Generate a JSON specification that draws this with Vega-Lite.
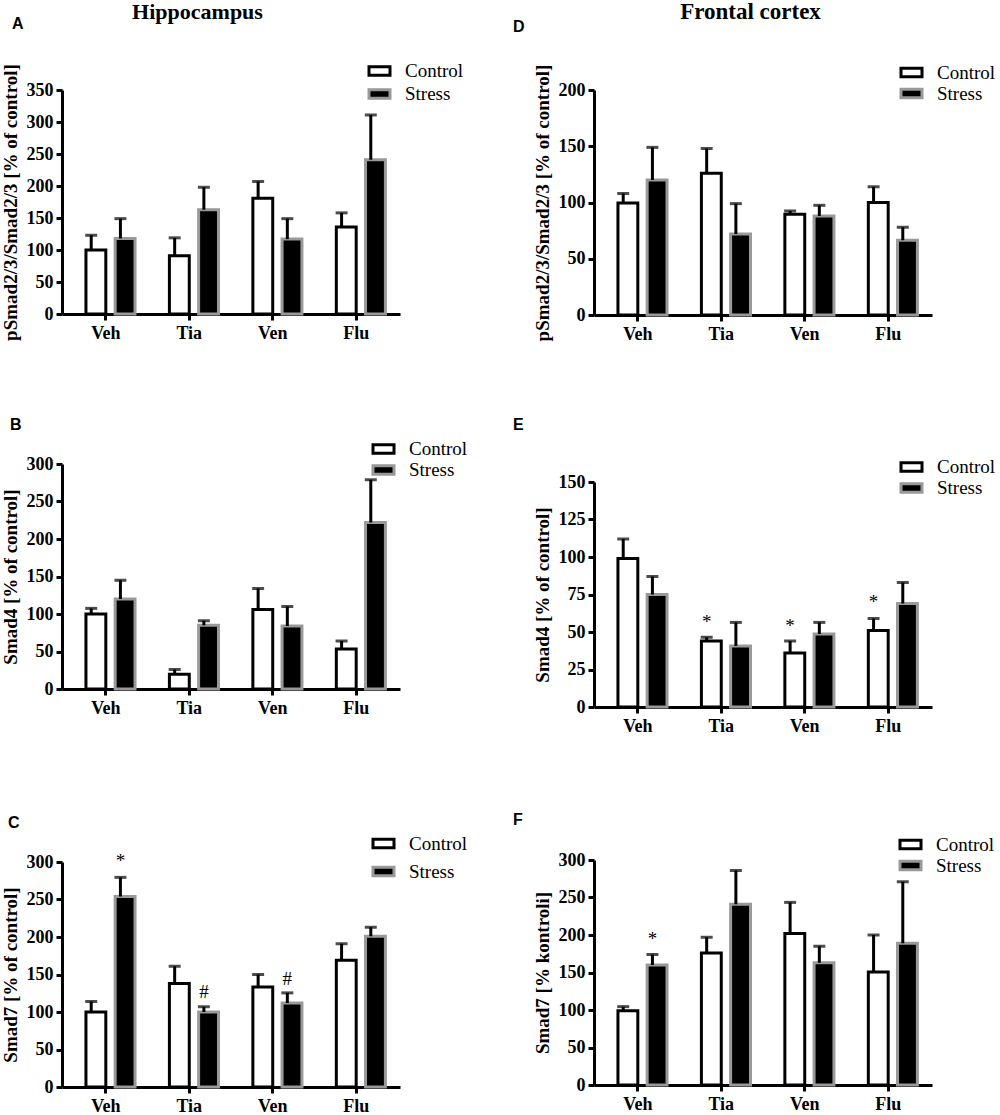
{
  "$schema": "https://vega.github.io/schema/vega-lite/v6.json",
  "background": "#ffffff",
  "padding": {"left": 0, "top": 0, "right": 0, "bottom": 0},
  "datasets": {
    "A": [
      {"drug": "Veh", "group": "Control", "value": 100, "upper": 123},
      {"drug": "Veh", "group": "Stress", "value": 118, "upper": 149},
      {"drug": "Tia", "group": "Control", "value": 91, "upper": 119},
      {"drug": "Tia", "group": "Stress", "value": 163, "upper": 198},
      {"drug": "Ven", "group": "Control", "value": 181, "upper": 207},
      {"drug": "Ven", "group": "Stress", "value": 117, "upper": 149},
      {"drug": "Flu", "group": "Control", "value": 136, "upper": 158},
      {"drug": "Flu", "group": "Stress", "value": 241, "upper": 311}
    ],
    "B": [
      {"drug": "Veh", "group": "Control", "value": 100, "upper": 107.5},
      {"drug": "Veh", "group": "Stress", "value": 120, "upper": 145},
      {"drug": "Tia", "group": "Control", "value": 19.6, "upper": 26},
      {"drug": "Tia", "group": "Stress", "value": 85, "upper": 91},
      {"drug": "Ven", "group": "Control", "value": 106, "upper": 134},
      {"drug": "Ven", "group": "Stress", "value": 84, "upper": 110},
      {"drug": "Flu", "group": "Control", "value": 53.5, "upper": 64},
      {"drug": "Flu", "group": "Stress", "value": 222, "upper": 279}
    ],
    "C": [
      {"drug": "Veh", "group": "Control", "value": 100, "upper": 114},
      {"drug": "Veh", "group": "Stress", "value": 254, "upper": 279.5},
      {"drug": "Tia", "group": "Control", "value": 138, "upper": 161},
      {"drug": "Tia", "group": "Stress", "value": 100, "upper": 107},
      {"drug": "Ven", "group": "Control", "value": 133.5, "upper": 150},
      {"drug": "Ven", "group": "Stress", "value": 112, "upper": 125.5},
      {"drug": "Flu", "group": "Control", "value": 169, "upper": 191},
      {"drug": "Flu", "group": "Stress", "value": 201, "upper": 213}
    ],
    "D": [
      {"drug": "Veh", "group": "Control", "value": 99.5, "upper": 108},
      {"drug": "Veh", "group": "Stress", "value": 120, "upper": 149},
      {"drug": "Tia", "group": "Control", "value": 126, "upper": 148},
      {"drug": "Tia", "group": "Stress", "value": 72, "upper": 99},
      {"drug": "Ven", "group": "Control", "value": 89.5, "upper": 92.5},
      {"drug": "Ven", "group": "Stress", "value": 88, "upper": 97.5},
      {"drug": "Flu", "group": "Control", "value": 100, "upper": 114},
      {"drug": "Flu", "group": "Stress", "value": 66.5, "upper": 78}
    ],
    "E": [
      {"drug": "Veh", "group": "Control", "value": 99, "upper": 112},
      {"drug": "Veh", "group": "Stress", "value": 75, "upper": 87},
      {"drug": "Tia", "group": "Control", "value": 44, "upper": 46.5},
      {"drug": "Tia", "group": "Stress", "value": 40.7, "upper": 56.4},
      {"drug": "Ven", "group": "Control", "value": 36, "upper": 44},
      {"drug": "Ven", "group": "Stress", "value": 48.7, "upper": 56.4},
      {"drug": "Flu", "group": "Control", "value": 51, "upper": 59},
      {"drug": "Flu", "group": "Stress", "value": 69, "upper": 83}
    ],
    "F": [
      {"drug": "Veh", "group": "Control", "value": 99, "upper": 104.5},
      {"drug": "Veh", "group": "Stress", "value": 160, "upper": 174},
      {"drug": "Tia", "group": "Control", "value": 176, "upper": 197},
      {"drug": "Tia", "group": "Stress", "value": 241, "upper": 286},
      {"drug": "Ven", "group": "Control", "value": 202, "upper": 243.5},
      {"drug": "Ven", "group": "Stress", "value": 163, "upper": 185},
      {"drug": "Flu", "group": "Control", "value": 150.7, "upper": 200},
      {"drug": "Flu", "group": "Stress", "value": 189, "upper": 271}
    ],
    "annot": [
      {"panel": "C", "drug": "Veh", "group": "Stress", "mark": "*", "pos": 293},
      {"panel": "C", "drug": "Tia", "group": "Stress", "mark": "#", "pos": 119},
      {"panel": "C", "drug": "Ven", "group": "Stress", "mark": "#", "pos": 136},
      {"panel": "E", "drug": "Tia", "group": "Control", "mark": "*", "pos": 53},
      {"panel": "E", "drug": "Ven", "group": "Control", "mark": "*", "pos": 49.7},
      {"panel": "E", "drug": "Flu", "group": "Control", "mark": "*", "pos": 66},
      {"panel": "F", "drug": "Veh", "group": "Stress", "mark": "*", "pos": 187}
    ]
  },
  "spacing": 45,
  "resolve": {
    "scale": {"fill": "independent", "stroke": "independent", "xOffset": "independent"},
    "legend": {"fill": "independent", "stroke": "independent"}
  },
  "hconcat": [
    {
      "spacing": 75,
      "resolve": {
        "scale": {"fill": "independent", "stroke": "independent", "xOffset": "independent"},
        "legend": {"fill": "independent", "stroke": "independent"}
      },
      "vconcat": [
        {
          "title": {"text": "A", "dx": -50, "offset": -32},
          "width": 338,
          "height": 224,
          "data": {"name": "A"},
          "resolve": {"axis": {"x": "independent"}},
          "encoding": {
            "xOffset": {"field": "group", "type": "nominal", "scale": {"domain": ["Control", "Stress"], "paddingInner": 0, "paddingOuter": 0}}
          },
          "layer": [
            {
              "mark": {"type": "bar", "strokeWidth": 3, "width": {"band": 0.68}},
              "encoding": {
                "x": {"field": "drug", "type": "nominal", "title": null, "scale": {"domain": ["Veh", "Tia", "Ven", "Flu"], "paddingInner": 0.3, "paddingOuter": 0.175}, "axis": {"orient": "bottom"}},
                "y": {"field": "value", "type": "quantitative", "title": "pSmad2/3/Smad2/3 [% of control]", "scale": {"domain": [0, 350]}, "axis": {"values": [0, 50, 100, 150, 200, 250, 300, 350]}},
                "fill": {"field": "group", "type": "nominal", "scale": {"domain": ["Control", "Stress"], "range": ["#ffffff", "#000000"]}, "legend": {"title": null, "legendX": 308, "legendY": -28.5, "rowPadding": 2}},
                "stroke": {"field": "group", "type": "nominal", "scale": {"domain": ["Control", "Stress"], "range": ["#000000", "#999999"]}, "legend": {"title": null, "legendX": 308, "legendY": -28.5, "rowPadding": 2}}
              }
            },
            {
              "mark": {"type": "rule", "strokeWidth": 3, "color": "#000000"},
              "encoding": {
                "x": {"field": "drug", "type": "nominal", "scale": {"domain": ["Veh", "Tia", "Ven", "Flu"], "paddingInner": 0.3, "paddingOuter": 0.175}, "axis": {"orient": "top", "title": "Hippocampus", "labels": false, "ticks": false, "domain": false, "titleFontSize": 22, "titleX": 135, "titleY": -72, "titleBaseline": "alphabetic"}},
                "y": {"field": "value", "type": "quantitative", "title": "pSmad2/3/Smad2/3 [% of control]", "scale": {"domain": [0, 350]}, "axis": {"values": [0, 50, 100, 150, 200, 250, 300, 350]}},
                "y2": {"field": "upper"}
              }
            },
            {
              "mark": {"type": "tick", "thickness": 3, "size": 12, "color": "#000000"},
              "encoding": {
                "x": {"field": "drug", "type": "nominal", "title": null, "scale": {"domain": ["Veh", "Tia", "Ven", "Flu"], "paddingInner": 0.3, "paddingOuter": 0.175}, "axis": null},
                "y": {"field": "upper", "type": "quantitative", "title": "pSmad2/3/Smad2/3 [% of control]", "scale": {"domain": [0, 350]}, "axis": {"values": [0, 50, 100, 150, 200, 250, 300, 350]}}
              }
            }
          ]
        },
        {
          "spacing": 98,
          "resolve": {
            "scale": {"fill": "independent", "stroke": "independent", "xOffset": "independent"},
            "legend": {"fill": "independent", "stroke": "independent"}
          },
          "vconcat": [
            {
              "title": {"text": "B", "dx": -52, "offset": 6.5},
              "width": 338,
              "height": 225,
              "data": {"name": "B"},
              "encoding": {
                "x": {"field": "drug", "type": "nominal", "title": null, "scale": {"domain": ["Veh", "Tia", "Ven", "Flu"], "paddingInner": 0.3, "paddingOuter": 0.175}},
                "xOffset": {"field": "group", "type": "nominal", "scale": {"domain": ["Control", "Stress"], "paddingInner": 0, "paddingOuter": 0}}
              },
              "layer": [
                {
                  "mark": {"type": "bar", "strokeWidth": 3, "width": {"band": 0.68}},
                  "encoding": {
                    "y": {"field": "value", "type": "quantitative", "title": "Smad4 [% of control]", "scale": {"domain": [0, 300]}, "axis": {"values": [0, 50, 100, 150, 200, 250, 300]}},
                    "fill": {"field": "group", "type": "nominal", "scale": {"domain": ["Control", "Stress"], "range": ["#ffffff", "#000000"]}, "legend": {"title": null, "legendX": 312, "legendY": -24.5, "rowPadding": 0}},
                    "stroke": {"field": "group", "type": "nominal", "scale": {"domain": ["Control", "Stress"], "range": ["#000000", "#999999"]}, "legend": {"title": null, "legendX": 312, "legendY": -24.5, "rowPadding": 0}}
                  }
                },
                {
                  "mark": {"type": "rule", "strokeWidth": 3, "color": "#000000"},
                  "encoding": {
                    "y": {"field": "value", "type": "quantitative", "title": "Smad4 [% of control]", "scale": {"domain": [0, 300]}, "axis": {"values": [0, 50, 100, 150, 200, 250, 300]}},
                    "y2": {"field": "upper"}
                  }
                },
                {
                  "mark": {"type": "tick", "thickness": 3, "size": 12, "color": "#000000"},
                  "encoding": {
                    "y": {"field": "upper", "type": "quantitative", "title": "Smad4 [% of control]", "scale": {"domain": [0, 300]}, "axis": {"values": [0, 50, 100, 150, 200, 250, 300]}}
                  }
                }
              ]
            },
            {
              "title": {"text": "C", "dx": -54, "offset": 3},
              "width": 338,
              "height": 225,
              "data": {"name": "C"},
              "encoding": {
                "x": {"field": "drug", "type": "nominal", "title": null, "scale": {"domain": ["Veh", "Tia", "Ven", "Flu"], "paddingInner": 0.3, "paddingOuter": 0.175}},
                "xOffset": {"field": "group", "type": "nominal", "scale": {"domain": ["Control", "Stress"], "paddingInner": 0, "paddingOuter": 0}}
              },
              "layer": [
                {
                  "mark": {"type": "bar", "strokeWidth": 3, "width": {"band": 0.68}},
                  "encoding": {
                    "y": {"field": "value", "type": "quantitative", "title": "Smad7 [% of control]", "scale": {"domain": [0, 300]}, "axis": {"values": [0, 50, 100, 150, 200, 250, 300]}},
                    "fill": {"field": "group", "type": "nominal", "scale": {"domain": ["Control", "Stress"], "range": ["#ffffff", "#000000"]}, "legend": {"title": null, "legendX": 312, "legendY": -28, "rowPadding": 7}},
                    "stroke": {"field": "group", "type": "nominal", "scale": {"domain": ["Control", "Stress"], "range": ["#000000", "#999999"]}, "legend": {"title": null, "legendX": 312, "legendY": -28, "rowPadding": 7}}
                  }
                },
                {
                  "mark": {"type": "rule", "strokeWidth": 3, "color": "#000000"},
                  "encoding": {
                    "y": {"field": "value", "type": "quantitative", "title": "Smad7 [% of control]", "scale": {"domain": [0, 300]}, "axis": {"values": [0, 50, 100, 150, 200, 250, 300]}},
                    "y2": {"field": "upper"}
                  }
                },
                {
                  "mark": {"type": "tick", "thickness": 3, "size": 12, "color": "#000000"},
                  "encoding": {
                    "y": {"field": "upper", "type": "quantitative", "title": "Smad7 [% of control]", "scale": {"domain": [0, 300]}, "axis": {"values": [0, 50, 100, 150, 200, 250, 300]}}
                  }
                },
                {
                  "data": {"name": "annot"},
                  "transform": [{"filter": "datum.panel === 'C'"}],
                  "mark": {"type": "text", "baseline": "alphabetic", "font": "Liberation Serif", "fontSize": 19, "color": "#000000"},
                  "encoding": {
                    "text": {"field": "mark"},
                    "y": {"field": "pos", "type": "quantitative", "title": "Smad7 [% of control]", "scale": {"domain": [0, 300]}, "axis": {"values": [0, 50, 100, 150, 200, 250, 300]}}
                  }
                }
              ]
            }
          ]
        }
      ]
    },
    {
      "spacing": 74,
      "resolve": {
        "scale": {"fill": "independent", "stroke": "independent", "xOffset": "independent"},
        "legend": {"fill": "independent", "stroke": "independent"}
      },
      "vconcat": [
        {
          "title": {"text": "D", "dx": -81, "offset": -35},
          "width": 338,
          "height": 225,
          "data": {"name": "D"},
          "resolve": {"axis": {"x": "independent"}},
          "encoding": {
            "xOffset": {"field": "group", "type": "nominal", "scale": {"domain": ["Control", "Stress"], "paddingInner": 0, "paddingOuter": 0}}
          },
          "layer": [
            {
              "mark": {"type": "bar", "strokeWidth": 3, "width": {"band": 0.68}},
              "encoding": {
                "x": {"field": "drug", "type": "nominal", "title": null, "scale": {"domain": ["Veh", "Tia", "Ven", "Flu"], "paddingInner": 0.3, "paddingOuter": 0.175}, "axis": {"orient": "bottom"}},
                "y": {"field": "value", "type": "quantitative", "title": "pSmad2/3/Smad2/3 [% of control]", "scale": {"domain": [0, 200]}, "axis": {"values": [0, 50, 100, 150, 200]}},
                "fill": {"field": "group", "type": "nominal", "scale": {"domain": ["Control", "Stress"], "range": ["#ffffff", "#000000"]}, "legend": {"title": null, "legendX": 308, "legendY": -27, "rowPadding": 0}},
                "stroke": {"field": "group", "type": "nominal", "scale": {"domain": ["Control", "Stress"], "range": ["#000000", "#999999"]}, "legend": {"title": null, "legendX": 308, "legendY": -27, "rowPadding": 0}}
              }
            },
            {
              "mark": {"type": "rule", "strokeWidth": 3, "color": "#000000"},
              "encoding": {
                "x": {"field": "drug", "type": "nominal", "scale": {"domain": ["Veh", "Tia", "Ven", "Flu"], "paddingInner": 0.3, "paddingOuter": 0.175}, "axis": {"orient": "top", "title": "Frontal cortex", "labels": false, "ticks": false, "domain": false, "titleFontSize": 23, "titleX": 156, "titleY": -72, "titleBaseline": "alphabetic"}},
                "y": {"field": "value", "type": "quantitative", "title": "pSmad2/3/Smad2/3 [% of control]", "scale": {"domain": [0, 200]}, "axis": {"values": [0, 50, 100, 150, 200]}},
                "y2": {"field": "upper"}
              }
            },
            {
              "mark": {"type": "tick", "thickness": 3, "size": 12, "color": "#000000"},
              "encoding": {
                "x": {"field": "drug", "type": "nominal", "title": null, "scale": {"domain": ["Veh", "Tia", "Ven", "Flu"], "paddingInner": 0.3, "paddingOuter": 0.175}, "axis": null},
                "y": {"field": "upper", "type": "quantitative", "title": "pSmad2/3/Smad2/3 [% of control]", "scale": {"domain": [0, 200]}, "axis": {"values": [0, 50, 100, 150, 200]}}
              }
            }
          ]
        },
        {
          "spacing": 77,
          "resolve": {
            "scale": {"fill": "independent", "stroke": "independent", "xOffset": "independent"},
            "legend": {"fill": "independent", "stroke": "independent"}
          },
          "vconcat": [
            {
              "title": {"text": "E", "dx": -81, "offset": 24.5},
              "width": 338,
              "height": 225,
              "data": {"name": "E"},
              "encoding": {
                "x": {"field": "drug", "type": "nominal", "title": null, "scale": {"domain": ["Veh", "Tia", "Ven", "Flu"], "paddingInner": 0.3, "paddingOuter": 0.175}},
                "xOffset": {"field": "group", "type": "nominal", "scale": {"domain": ["Control", "Stress"], "paddingInner": 0, "paddingOuter": 0}}
              },
              "layer": [
                {
                  "mark": {"type": "bar", "strokeWidth": 3, "width": {"band": 0.68}},
                  "encoding": {
                    "y": {"field": "value", "type": "quantitative", "title": "Smad4 [% of control]", "scale": {"domain": [0, 150]}, "axis": {"values": [0, 25, 50, 75, 100, 125, 150]}},
                    "fill": {"field": "group", "type": "nominal", "scale": {"domain": ["Control", "Stress"], "range": ["#ffffff", "#000000"]}, "legend": {"title": null, "legendX": 308, "legendY": -24.5, "rowPadding": 0}},
                    "stroke": {"field": "group", "type": "nominal", "scale": {"domain": ["Control", "Stress"], "range": ["#000000", "#999999"]}, "legend": {"title": null, "legendX": 308, "legendY": -24.5, "rowPadding": 0}}
                  }
                },
                {
                  "mark": {"type": "rule", "strokeWidth": 3, "color": "#000000"},
                  "encoding": {
                    "y": {"field": "value", "type": "quantitative", "title": "Smad4 [% of control]", "scale": {"domain": [0, 150]}, "axis": {"values": [0, 25, 50, 75, 100, 125, 150]}},
                    "y2": {"field": "upper"}
                  }
                },
                {
                  "mark": {"type": "tick", "thickness": 3, "size": 12, "color": "#000000"},
                  "encoding": {
                    "y": {"field": "upper", "type": "quantitative", "title": "Smad4 [% of control]", "scale": {"domain": [0, 150]}, "axis": {"values": [0, 25, 50, 75, 100, 125, 150]}}
                  }
                },
                {
                  "data": {"name": "annot"},
                  "transform": [{"filter": "datum.panel === 'E'"}],
                  "mark": {"type": "text", "baseline": "alphabetic", "font": "Liberation Serif", "fontSize": 19, "color": "#000000"},
                  "encoding": {
                    "text": {"field": "mark"},
                    "y": {"field": "pos", "type": "quantitative", "title": "Smad4 [% of control]", "scale": {"domain": [0, 150]}, "axis": {"values": [0, 25, 50, 75, 100, 125, 150]}}
                  }
                }
              ]
            },
            {
              "title": {"text": "F", "dx": -81, "offset": 7},
              "width": 338,
              "height": 225,
              "data": {"name": "F"},
              "encoding": {
                "x": {"field": "drug", "type": "nominal", "title": null, "scale": {"domain": ["Veh", "Tia", "Ven", "Flu"], "paddingInner": 0.3, "paddingOuter": 0.175}},
                "xOffset": {"field": "group", "type": "nominal", "scale": {"domain": ["Control", "Stress"], "paddingInner": 0, "paddingOuter": 0}}
              },
              "layer": [
                {
                  "mark": {"type": "bar", "strokeWidth": 3, "width": {"band": 0.68}},
                  "encoding": {
                    "y": {"field": "value", "type": "quantitative", "title": "Smad7 [% kontroli]", "scale": {"domain": [0, 300]}, "axis": {"values": [0, 50, 100, 150, 200, 250, 300]}},
                    "fill": {"field": "group", "type": "nominal", "scale": {"domain": ["Control", "Stress"], "range": ["#ffffff", "#000000"]}, "legend": {"title": null, "legendX": 307, "legendY": -25, "rowPadding": 0}},
                    "stroke": {"field": "group", "type": "nominal", "scale": {"domain": ["Control", "Stress"], "range": ["#000000", "#999999"]}, "legend": {"title": null, "legendX": 307, "legendY": -25, "rowPadding": 0}}
                  }
                },
                {
                  "mark": {"type": "rule", "strokeWidth": 3, "color": "#000000"},
                  "encoding": {
                    "y": {"field": "value", "type": "quantitative", "title": "Smad7 [% kontroli]", "scale": {"domain": [0, 300]}, "axis": {"values": [0, 50, 100, 150, 200, 250, 300]}},
                    "y2": {"field": "upper"}
                  }
                },
                {
                  "mark": {"type": "tick", "thickness": 3, "size": 12, "color": "#000000"},
                  "encoding": {
                    "y": {"field": "upper", "type": "quantitative", "title": "Smad7 [% kontroli]", "scale": {"domain": [0, 300]}, "axis": {"values": [0, 50, 100, 150, 200, 250, 300]}}
                  }
                },
                {
                  "data": {"name": "annot"},
                  "transform": [{"filter": "datum.panel === 'F'"}],
                  "mark": {"type": "text", "baseline": "alphabetic", "font": "Liberation Serif", "fontSize": 19, "color": "#000000"},
                  "encoding": {
                    "text": {"field": "mark"},
                    "y": {"field": "pos", "type": "quantitative", "title": "Smad7 [% kontroli]", "scale": {"domain": [0, 300]}, "axis": {"values": [0, 50, 100, 150, 200, 250, 300]}}
                  }
                }
              ]
            }
          ]
        }
      ]
    }
  ],
  "config": {
    "font": "Liberation Serif",
    "view": {"stroke": null},
    "title": {"font": "Liberation Sans", "fontWeight": "bold", "fontSize": 16, "color": "#000000", "anchor": "start", "frame": "group", "baseline": "alphabetic"},
    "axis": {
      "domainColor": "#000000",
      "domainWidth": 3,
      "tickColor": "#000000",
      "tickWidth": 3,
      "tickSize": 6,
      "grid": false,
      "labelOverlap": false,
      "labelColor": "#000000",
      "labelFont": "Liberation Serif",
      "labelFontWeight": "bold",
      "labelFontSize": 18,
      "titleColor": "#000000",
      "titleFont": "Liberation Serif",
      "titleFontWeight": "bold",
      "titleFontSize": 19
    },
    "axisX": {"labelAngle": 0, "labelPadding": 4},
    "axisY": {"labelPadding": 3, "titlePadding": 6},
    "legend": {
      "orient": "none",
      "symbolType": "M-2.1,-0.84H2.1V0.84H-2.1Z",
      "symbolSize": 100,
      "symbolStrokeWidth": 3,
      "symbolOpacity": 1,
      "labelFont": "Liberation Serif",
      "labelFontSize": 19,
      "labelColor": "#000000",
      "labelOffset": 16,
      "padding": 0
    }
  }
}
